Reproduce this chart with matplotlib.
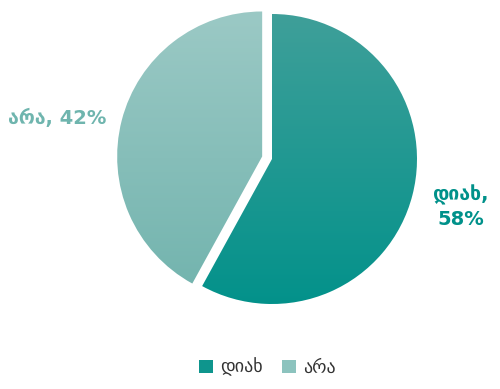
import numpy as np
import matplotlib.pyplot as plt
from matplotlib.patches import Patch

labels = ["დიახ", "არა"]
values = [58, 42]
top_colors = ["#42a09a", "#9dcac6"]
bottom_colors = ["#00918a", "#6fb2ac"]
legend_colors = ["#0e958d", "#8cc3be"]

plt.rcParams['font.family'] = ['DejaVu Sans']

fig = plt.figure(figsize=(5, 3.89), dpi=100)
ax = fig.add_axes([0, 0, 1, 1])

wedges, _ = ax.pie(values, startangle=90, counterclock=False,
                   explode=[0, 0.07], radius=1,
                   colors=legend_colors)


def hex2rgb(h):
    h = h.lstrip("#")
    return np.array([int(h[i:i + 2], 16) / 255 for i in (0, 2, 4)])


# vertical gradient inside each wedge
for w, c1, c2 in zip(wedges, top_colors, bottom_colors):
    t = np.linspace(0, 1, 256)[:, None]
    grad = (1 - t) * hex2rgb(c1) + t * hex2rgb(c2)
    grad = np.repeat(grad[:, None, :], 2, axis=1)
    im = ax.imshow(grad, extent=[-1.2, 1.2, -1.1, 1.1], origin="upper",
                   aspect="auto", zorder=2, interpolation="bilinear")
    im.set_clip_path(w)
    w.set_facecolor("none")
    w.set_edgecolor("none")

ax.set_xlim(-272 / 145, 228 / 145)
ax.set_ylim(-230 / 145, 159 / 145)
ax.axis("off")

ax.text(-1.48, 0.28, f"{labels[1]}, {values[1]}%", ha="center", va="center",
        fontsize=14, fontweight="bold", color="#6fb5ae")
ax.text(1.30, -0.33, f"{labels[0]},\n{values[0]}%", ha="center", va="center",
        fontsize=14, fontweight="bold", color="#00918a", linespacing=1.3)

handles = [Patch(facecolor=c, edgecolor="none") for c in legend_colors]
fig.legend(handles, labels, loc="lower center", ncol=2, frameon=False,
           bbox_to_anchor=(0.535, -0.01), fontsize=13, handlelength=0.75,
           handleheight=0.75, handletextpad=0.4, columnspacing=1.1,
           labelcolor="#333333")

fig.savefig("out.png", dpi=100)
